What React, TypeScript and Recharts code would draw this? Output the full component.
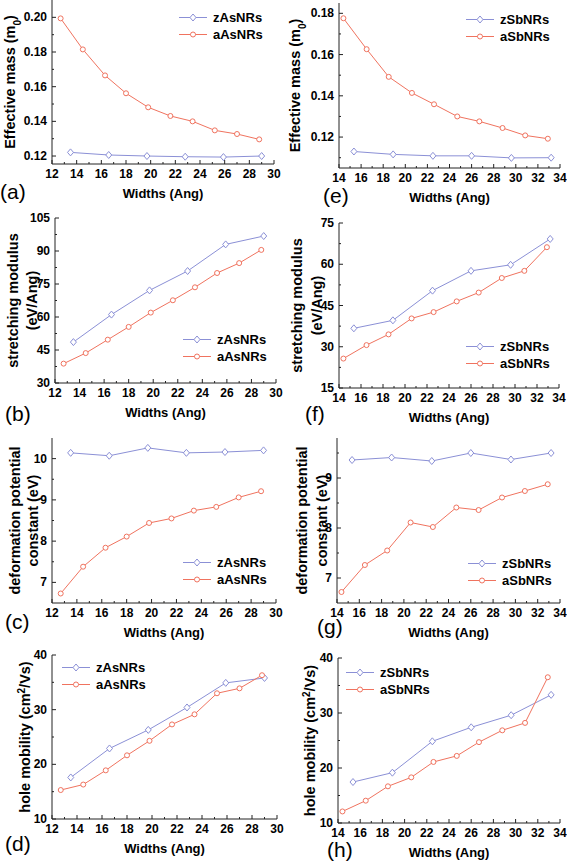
import React from 'react';
import { LineChart, Line, XAxis, YAxis, Legend } from 'recharts';

// ribbon widths (Ang)
const zAsWidths = [13.5, 16.6, 19.7, 22.8, 25.9, 29.0];
const aAsWidths = [12.7, 14.5, 16.3, 18.0, 19.8, 21.6, 23.4, 25.2, 27.0, 28.8];
const zSbWidths = [15.35, 18.9, 22.5, 26.0, 29.6, 33.2];
const aSbWidths = [14.4, 16.5, 18.5, 20.6, 22.6, 24.7, 26.7, 28.8, 30.85, 32.9];

// effective mass (m0)
const zAsMass = [0.1221, 0.1206, 0.12, 0.1196, 0.1194, 0.12];
const aAsMass = [0.1994, 0.1815, 0.1665, 0.1562, 0.1481, 0.1431, 0.14, 0.1348, 0.1327, 0.1296];
const zSbMass = [0.113, 0.1116, 0.1109, 0.1109, 0.1099, 0.11];
const aSbMass = [0.1776, 0.1626, 0.1492, 0.1414, 0.1359, 0.13, 0.1276, 0.1244, 0.1208, 0.1192];

// stretching modulus (eV/Ang)
const zAsModulus = [48.6, 61.1, 72.1, 80.9, 93.0, 96.8];
const aAsModulus = [38.8, 43.6, 49.7, 55.5, 62.0, 67.6, 73.5, 80.0, 84.5, 90.5];
const zSbModulus = [36.7, 39.6, 50.4, 57.6, 59.8, 69.2];
const aSbModulus = [25.7, 30.6, 34.5, 40.3, 42.6, 46.5, 49.7, 55.0, 57.6, 66.2];

// deformation potential constant (eV)
const zAsDeform = [10.14, 10.07, 10.26, 10.14, 10.16, 10.2];
const aAsDeform = [6.73, 7.38, 7.84, 8.11, 8.44, 8.55, 8.74, 8.83, 9.06, 9.21];
const zSbDeform = [9.36, 9.41, 9.34, 9.5, 9.37, 9.5];
const aSbDeform = [6.72, 7.26, 7.55, 8.11, 8.02, 8.41, 8.36, 8.61, 8.74, 8.875];

// hole mobility (cm2/Vs)
const zAsMobility = [17.6, 22.9, 26.3, 30.4, 34.9, 35.8];
const aAsMobility = [15.3, 16.3, 18.9, 21.65, 24.3, 27.3, 29.15, 33.0, 33.9, 36.3];
const zSbMobility = [17.45, 19.15, 24.85, 27.4, 29.6, 33.3];
const aSbMobility = [12.1, 14.06, 16.67, 18.3, 21.1, 22.2, 24.7, 26.85, 28.2, 36.5];

// tick labels
const asXMajor = [12, 14, 16, 18, 20, 22, 24, 26, 28, 30];
const asXAll = [12, 13, 14, 15, 16, 17, 18, 19, 20, 21, 22, 23, 24, 25, 26, 27, 28, 29, 30];
const sbXMajor = [14, 16, 18, 20, 22, 24, 26, 28, 30, 32, 34];
const sbXAll = [14, 15, 16, 17, 18, 19, 20, 21, 22, 23, 24, 25, 26, 27, 28, 29, 30, 31, 32, 33, 34];
const massAsYMajor = [0.12, 0.14, 0.16, 0.18, 0.2];
const massAsYAll = [0.12, 0.13, 0.14, 0.15, 0.16, 0.17, 0.18, 0.19, 0.2];
const massSbYMajor = [0.12, 0.14, 0.16, 0.18];
const massSbYAll = [0.11, 0.12, 0.13, 0.14, 0.15, 0.16, 0.17, 0.18];
const modAsYMajor = [30, 45, 60, 75, 90, 105];
const modAsYAll = [30, 37.5, 45, 52.5, 60, 67.5, 75, 82.5, 90, 97.5, 105];
const modSbYMajor = [15, 30, 45, 60, 75];
const modSbYAll = [15, 22.5, 30, 37.5, 45, 52.5, 60, 67.5, 75];
const defAsYMajor = [7, 8, 9, 10];
const defAsYAll = [7, 7.5, 8, 8.5, 9, 9.5, 10];
const defSbYMajor = [7, 8, 9];
const defSbYAll = [7, 7.5, 8, 8.5, 9, 9.5];
const mobYMajor = [10, 20, 30, 40];
const mobYAll = [10, 15, 20, 25, 30, 35, 40];

const BLUE = '#8b90d6';
const RED = '#f0735f';
const AXIS = '#222';
const FONT = '"Liberation Sans", Arial, sans-serif';

const zip = (xs: number[], ys: number[]) => xs.map((w, i) => ({ w, v: ys[i] }));

type Side = 'bottom' | 'left' | 'top' | 'right';

function makeTick(side: Side, majors: number[], fmt: (v: number) => string) {
  return (props: any) => {
    const { x, y, payload } = props;
    const v = payload.value;
    const major = majors.some((m) => Math.abs(m - v) < 1e-9);
    const len = major ? 4 : 2;
    let x2 = x;
    let y2 = y;
    if (side === 'bottom') y2 = y - len;
    if (side === 'top') y2 = y + len;
    if (side === 'left') x2 = x + len;
    if (side === 'right') x2 = x - len;
    return (
      <g>
        <line x1={x} y1={y} x2={x2} y2={y2} stroke={AXIS} strokeWidth={1} />
        {major && side === 'bottom' && (
          <text x={x} y={y + 14} textAnchor="middle" fontSize={12} fontWeight="bold" fontFamily={FONT} fill="#000">
            {fmt(v)}
          </text>
        )}
        {major && side === 'left' && (
          <text x={x - 5} y={y + 4} textAnchor="end" fontSize={12} fontWeight="bold" fontFamily={FONT} fill="#000">
            {fmt(v)}
          </text>
        )}
      </g>
    );
  };
}

const diamond = (color: string) => (p: any) => {
  const { cx, cy } = p;
  if (cx == null || cy == null) return <g key={p.index} />;
  return (
    <path
      key={`d-${p.index}`}
      d={`M${cx},${cy - 3.5}L${cx + 3},${cy}L${cx},${cy + 3.5}L${cx - 3},${cy}Z`}
      fill="#fff"
      stroke={color}
      strokeWidth={1}
    />
  );
};

interface Series {
  name: string;
  color: string;
  marker: 'diamond' | 'circle';
  data: { w: number; v: number }[];
}

interface PanelProps {
  letter: string;
  letterPos: [number, number];
  left: number;
  top: number;
  width: number;
  height: number;
  plot: { l: number; r: number; t: number; b: number };
  xDomain: [number, number];
  xMajor: number[];
  xAll: number[];
  yDomain: [number, number];
  yMajor: number[];
  yAll: number[];
  yFmt: (v: number) => string;
  title: React.ReactNode[];
  titleOffsets: number[];
  legendPos: [number, number];
  series: Series[];
}

function LegendBox({ series }: { series: Series[] }) {
  return (
    <div style={{ fontFamily: FONT, fontSize: 13, fontWeight: 'bold', color: '#000' }}>
      {series.map((s) => (
        <div key={s.name} style={{ display: 'flex', alignItems: 'center', height: 17 }}>
          <svg width={28} height={17} style={{ marginRight: 6 }}>
            <line x1={0} y1={8.5} x2={28} y2={8.5} stroke={s.color} strokeWidth={1} />
            {s.marker === 'circle' ? (
              <circle cx={14} cy={8.5} r={2.5} fill="#fff" stroke={s.color} />
            ) : (
              <path d="M14,5L17,8.5L14,12L11,8.5Z" fill="#fff" stroke={s.color} />
            )}
          </svg>
          <span>{s.name}</span>
        </div>
      ))}
    </div>
  );
}

function Panel(p: PanelProps) {
  const { plot } = p;
  const xh = p.height - plot.b;
  const cy = (plot.t + plot.b) / 2;
  return (
    <>
      <div style={{ position: 'absolute', left: p.left, top: p.top }}>
        <LineChart
          width={p.width}
          height={p.height}
          margin={{ top: plot.t, left: 0, right: p.width - plot.r, bottom: 0 }}
        >
          <XAxis
            type="number"
            dataKey="w"
            domain={p.xDomain}
            ticks={p.xAll}
            interval={0}
            allowDataOverflow
            height={xh}
            tickSize={0}
            tickMargin={0}
            tickLine={false}
            axisLine={{ stroke: AXIS }}
            tick={makeTick('bottom', p.xMajor, (v) => String(v))}
            label={{
              content: () => (
                <text
                  x={(plot.l + plot.r) / 2}
                  y={plot.b + 34}
                  textAnchor="middle"
                  fontSize={13}
                  fontWeight="bold"
                  fontFamily={FONT}
                  fill="#000"
                >
                  Widths (Ang)
                </text>
              ),
            }}
          />
          <XAxis
            xAxisId="t"
            orientation="top"
            type="number"
            dataKey="w"
            domain={p.xDomain}
            ticks={p.xAll}
            interval={0}
            allowDataOverflow
            height={0}
            tickSize={0}
            tickMargin={0}
            tickLine={false}
            axisLine={{ stroke: AXIS }}
            tick={makeTick('top', p.xMajor, (v) => String(v))}
          />
          <YAxis
            type="number"
            domain={p.yDomain}
            ticks={p.yAll}
            interval={0}
            allowDataOverflow
            width={plot.l}
            tickSize={0}
            tickMargin={0}
            tickLine={false}
            axisLine={{ stroke: AXIS }}
            tick={makeTick('left', p.yMajor, p.yFmt)}
            label={{
              content: () => (
                <g>
                  {p.title.map((t, i) => {
                    const bx = plot.l - p.titleOffsets[i] + 5;
                    return (
                      <text
                        key={i}
                        x={bx}
                        y={cy}
                        transform={`rotate(-90, ${bx}, ${cy})`}
                        textAnchor="middle"
                        fontSize={14.5}
                        fontWeight="bold"
                        fontFamily={FONT}
                        fill="#000"
                      >
                        {t}
                      </text>
                    );
                  })}
                </g>
              ),
            }}
          />
          <YAxis
            yAxisId="r"
            orientation="right"
            type="number"
            domain={p.yDomain}
            ticks={p.yAll}
            interval={0}
            allowDataOverflow
            width={0}
            tickSize={0}
            tickMargin={0}
            tickLine={false}
            axisLine={{ stroke: AXIS }}
            tick={makeTick('right', p.yMajor, p.yFmt)}
          />
          <Legend
            layout="vertical"
            align="center"
            verticalAlign="middle"
            wrapperStyle={{ left: p.legendPos[0], top: p.legendPos[1] - 8.5, width: 'auto' }}
            content={() => <LegendBox series={p.series} />}
          />
          {p.series.map((s) => (
            <Line
              key={s.name}
              data={s.data}
              dataKey="v"
              name={s.name}
              type="linear"
              stroke={s.color}
              strokeWidth={1}
              isAnimationActive={false}
              dot={s.marker === 'diamond' ? diamond(s.color) : { r: 2.5, fill: '#fff', stroke: s.color, strokeWidth: 1 }}
              activeDot={false}
            />
          ))}
        </LineChart>
      </div>
      <div
        style={{
          position: 'absolute',
          left: p.letterPos[0],
          top: p.letterPos[1],
          fontFamily: FONT,
          fontSize: 21,
          lineHeight: '21px',
          color: '#000',
        }}
      >
        {p.letter}
      </div>
    </>
  );
}

const massTitle = (
  <>
    Effective mass (m<tspan baselineShift="sub" fontSize={10}>0</tspan>)
  </>
);
const mobilityTitle = (
  <>
    hole mobility (cm<tspan baselineShift="super" fontSize={10}>2</tspan>/Vs)
  </>
);

const as = (z: number[], a: number[]): Series[] => [
  { name: 'zAsNRs', color: BLUE, marker: 'diamond', data: zip(zAsWidths, z) },
  { name: 'aAsNRs', color: RED, marker: 'circle', data: zip(aAsWidths, a) },
];
const sb = (z: number[], a: number[]): Series[] => [
  { name: 'zSbNRs', color: BLUE, marker: 'diamond', data: zip(zSbWidths, z) },
  { name: 'aSbNRs', color: RED, marker: 'circle', data: zip(aSbWidths, a) },
];

const fmt2 = (v: number) => v.toFixed(2);
const fmt0 = (v: number) => String(v);

export default function App() {
  return (
    <div style={{ position: 'absolute', left: 0, top: 0, width: 567, height: 862, background: '#fff', overflow: 'hidden' }}>
      <style>{'svg.recharts-surface { overflow: visible; }'}</style>
      <Panel
        letter="(a)" letterPos={[0, 181]}
        left={0} top={0} width={287} height={215}
        plot={{ l: 52, r: 274, t: 0, b: 164 }}
        xDomain={[12, 30]} xMajor={asXMajor} xAll={asXAll}
        yDomain={[0.1154, 0.21]} yMajor={massAsYMajor} yAll={massAsYAll} yFmt={fmt2}
        title={[massTitle]} titleOffsets={[42]}
        legendPos={[179, 17]}
        series={as(zAsMass, aAsMass)}
      />
      <Panel
        letter="(e)" letterPos={[323, 185]}
        left={280} top={0} width={287} height={215}
        plot={{ l: 59, r: 280, t: 3, b: 168 }}
        xDomain={[14, 34]} xMajor={sbXMajor} xAll={sbXAll}
        yDomain={[0.105, 0.185]} yMajor={massSbYMajor} yAll={massSbYAll} yFmt={fmt2}
        title={[massTitle]} titleOffsets={[44]}
        legendPos={[186, 19]}
        series={sb(zSbMass, aSbMass)}
      />
      <Panel
        letter="(b)" letterPos={[5, 403]}
        left={0} top={215} width={287} height={215}
        plot={{ l: 55, r: 276, t: 3, b: 168 }}
        xDomain={[12, 30]} xMajor={asXMajor} xAll={asXAll}
        yDomain={[30, 105]} yMajor={modAsYMajor} yAll={modAsYAll} yFmt={fmt0}
        title={['stretching modulus', '(eV/Ang)']} titleOffsets={[42, 23]}
        legendPos={[183, 124]}
        series={as(zAsModulus, aAsModulus)}
      />
      <Panel
        letter="(f)" letterPos={[305, 403]}
        left={280} top={215} width={287} height={215}
        plot={{ l: 59, r: 279, t: 8, b: 173 }}
        xDomain={[14, 34]} xMajor={sbXMajor} xAll={sbXAll}
        yDomain={[15, 75]} yMajor={modSbYMajor} yAll={modSbYAll} yFmt={fmt0}
        title={['stretching modulus', '(eV/Ang)']} titleOffsets={[42, 22]}
        legendPos={[186, 131]}
        series={sb(zSbModulus, aSbModulus)}
      />
      <Panel
        letter="(c)" letterPos={[5, 611]}
        left={0} top={430} width={287} height={215}
        plot={{ l: 52, r: 276, t: 8, b: 173 }}
        xDomain={[12, 30]} xMajor={asXMajor} xAll={asXAll}
        yDomain={[6.5, 10.5]} yMajor={defAsYMajor} yAll={defAsYAll} yFmt={fmt0}
        title={['deformation potential', 'constant (eV)']} titleOffsets={[37, 19]}
        legendPos={[183, 132]}
        series={as(zAsDeform, aAsDeform)}
      />
      <Panel
        letter="(g)" letterPos={[317, 616]}
        left={280} top={430} width={287} height={215}
        plot={{ l: 57, r: 280, t: 8, b: 173 }}
        xDomain={[14, 34]} xMajor={sbXMajor} xAll={sbXAll}
        yDomain={[6.5, 9.8]} yMajor={defSbYMajor} yAll={defSbYAll} yFmt={fmt0}
        title={['deformation potential', 'constant (eV)']} titleOffsets={[35, 15]}
        legendPos={[188, 133]}
        series={sb(zSbDeform, aSbDeform)}
      />
      <Panel
        letter="(d)" letterPos={[5, 833]}
        left={0} top={645} width={287} height={217}
        plot={{ l: 52, r: 277, t: 10, b: 174 }}
        xDomain={[12, 30]} xMajor={asXMajor} xAll={asXAll}
        yDomain={[10, 40]} yMajor={mobYMajor} yAll={mobYAll} yFmt={fmt0}
        title={[mobilityTitle]} titleOffsets={[27]}
        legendPos={[62, 22]}
        series={as(zAsMobility, aAsMobility)}
      />
      <Panel
        letter="(h)" letterPos={[327, 839]}
        left={280} top={645} width={287} height={217}
        plot={{ l: 58, r: 280, t: 13, b: 178 }}
        xDomain={[14, 34]} xMajor={sbXMajor} xAll={sbXAll}
        yDomain={[10, 40]} yMajor={mobYMajor} yAll={mobYAll} yFmt={fmt0}
        title={[mobilityTitle]} titleOffsets={[28]}
        legendPos={[66, 27]}
        series={sb(zSbMobility, aSbMobility)}
      />
    </div>
  );
}
